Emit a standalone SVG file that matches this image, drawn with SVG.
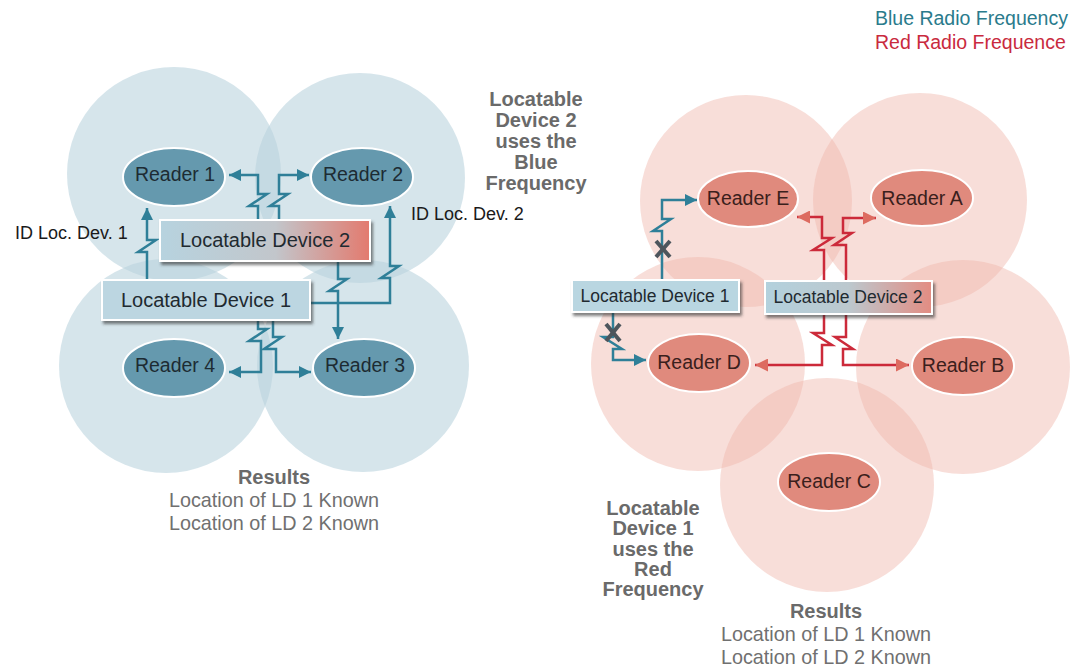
<svg xmlns="http://www.w3.org/2000/svg" width="1083" height="666" viewBox="0 0 1083 666">
<style>
text{font-family:"Liberation Sans",Arial,sans-serif;}
.bc{fill:#b9d3dd;fill-opacity:0.58;}
.rc{fill:#efb5aa;fill-opacity:0.45;}
.br{fill:#6599ae;stroke:#ffffff;stroke-width:2;}
.rr{fill:#e08a7d;stroke:#ffffff;stroke-width:2;}
.rt{font-size:19.5px;fill:#1d2b33;text-anchor:middle;}
.rtr{font-size:19.5px;fill:#3a201c;text-anchor:middle;}
.box{stroke:#ffffff;stroke-width:2;filter:url(#sh);}
.bt{font-size:20px;fill:#1f2a30;text-anchor:middle;}
.bts{font-size:17.5px;fill:#1f2a30;text-anchor:middle;}
.tl{fill:none;stroke:#2f7f98;stroke-width:2.5;stroke-linejoin:miter;marker-end:url(#aT);}
.rl{fill:none;stroke:#cc2a3a;stroke-width:2.5;stroke-linejoin:miter;marker-end:url(#aR);}
.bold{font-size:20px;font-weight:bold;fill:#6a6a6a;text-anchor:middle;}
.res{font-size:19.8px;fill:#707070;text-anchor:middle;}
.lab{font-size:18px;fill:#1a1a1a;}
.x{stroke:#4d555c;stroke-width:4;stroke-linecap:butt;}
</style>
<defs>
<filter id="sh" x="-10%" y="-30%" width="120%" height="170%">
<feDropShadow dx="2" dy="3" stdDeviation="1.5" flood-color="#2a2a2a" flood-opacity="0.6"/>
</filter>
<linearGradient id="g2" x1="0" y1="0" x2="1" y2="0">
<stop offset="0" stop-color="#b7d3df"/>
<stop offset="0.55" stop-color="#c2c6cb"/>
<stop offset="1" stop-color="#e37a6e"/>
</linearGradient>
<linearGradient id="g2r" x1="0" y1="0" x2="1" y2="0">
<stop offset="0" stop-color="#b3d1dd"/>
<stop offset="0.5" stop-color="#bcc8ce"/>
<stop offset="1" stop-color="#e38c82"/>
</linearGradient>
<marker id="aT" viewBox="0 0 10 10" refX="10" refY="5" markerUnits="userSpaceOnUse" markerWidth="12" markerHeight="12" orient="auto">
<path d="M0,0 L10,5 L0,10 z" fill="#2f7f98"/>
</marker>
<marker id="aR" viewBox="0 0 10 10" refX="10" refY="5" markerUnits="userSpaceOnUse" markerWidth="13" markerHeight="13" orient="auto">
<path d="M0,0 L10,5 L0,10 z" fill="#dd6b60"/>
</marker>
</defs>
<rect width="1083" height="666" fill="#ffffff"/>

<g id="coverage-blue">
<circle class="bc" cx="174" cy="174" r="107"/>
<circle class="bc" cx="360" cy="178" r="105"/>
<circle class="bc" cx="166" cy="366" r="107"/>
<circle class="bc" cx="363" cy="366" r="106"/>
</g>
<g id="coverage-red">
<circle class="rc" cx="746" cy="201" r="106"/>
<circle class="rc" cx="920" cy="200" r="107"/>
<circle class="rc" cx="698" cy="364" r="107"/>
<circle class="rc" cx="963" cy="367" r="107"/>
<circle class="rc" cx="827" cy="485" r="107"/>
</g>

<g id="legend">
<text x="875" y="25" style="font-size:19.5px;fill:#2a7b8c">Blue Radio Frequency</text>
<text x="875" y="49" style="font-size:19.5px;fill:#c92a3e">Red Radio Frequence</text>
</g>

<g id="connectors">
<path class="tl" d="M147,280 V252 H138 L156,240 H147 V208"/>
<path class="tl" d="M258,220 V206 H249 L267,194 H258 V175 H229"/>
<path class="tl" d="M279,220 V206 H270 L288,194 H279 V175 H309"/>
<path class="tl" d="M338,262 V279 H347 L329,291 H338 V339"/>
<path class="tl" d="M311,303 H390 V278 H381 L399,266 H390 V206"/>
<path class="tl" d="M258,321 V329 H267 L249,341 H261 V372 H229"/>
<path class="tl" d="M273,321 V337 H282 L264,349 H276 V372 H311"/>
<path class="tl" d="M662,280 V231 H653 L671,219 H662 V200 H697"/>
<path class="tl" d="M613,313 V337 H603 L622,349 H613 V360 H646"/>
<path class="rl" d="M824,280 V250 H813 L832,238 H822 V217 H797"/>
<path class="rl" d="M846,280 V245 H834 L852,233 H843 V218 H876"/>
<path class="rl" d="M824,314 V333 H813 L832,345 H822 V365 H755"/>
<path class="rl" d="M846,314 V337 H835 L853,349 H843 V365 H909"/>
<g id="x1"><line class="x" x1="656" y1="241" x2="670" y2="257"/><line class="x" x1="670" y1="241" x2="656" y2="257"/></g>
<g id="x2"><line class="x" x1="606" y1="324" x2="620" y2="341"/><line class="x" x1="620" y1="324" x2="606" y2="341"/></g>
</g>

<g id="reader1"><ellipse class="br" cx="174" cy="177" rx="51" ry="29"/><text class="rt" x="175" y="181">Reader 1</text></g>
<g id="reader2"><ellipse class="br" cx="362" cy="177" rx="51" ry="29"/><text class="rt" x="363" y="181">Reader 2</text></g>
<g id="reader4"><ellipse class="br" cx="174" cy="368" rx="51" ry="29"/><text class="rt" x="175" y="372">Reader 4</text></g>
<g id="reader3"><ellipse class="br" cx="364" cy="368" rx="51" ry="29"/><text class="rt" x="365" y="372">Reader 3</text></g>

<g id="ld2-left"><rect class="box" x="160" y="220" width="210" height="41" fill="url(#g2)"/><text class="bt" x="265" y="247">Locatable Device 2</text></g>
<g id="ld1-left"><rect class="box" x="102" y="280" width="208" height="40" fill="#bcd6e1"/><text class="bt" x="206" y="307">Locatable Device 1</text></g>

<g id="label-id1"><text class="lab" x="15" y="239">ID Loc. Dev. 1</text></g>
<g id="label-id2"><text class="lab" x="411" y="220">ID Loc. Dev. 2</text></g>

<g id="note-blue">
<text class="bold" x="536" y="106">Locatable</text>
<text class="bold" x="536" y="127">Device 2</text>
<text class="bold" x="536" y="148">uses the</text>
<text class="bold" x="536" y="169">Blue</text>
<text class="bold" x="536" y="190">Frequency</text>
</g>
<g id="results-left">
<text class="bold" x="274" y="484">Results</text>
<text class="res" x="274" y="507">Location of LD 1 Known</text>
<text class="res" x="274" y="530">Location of LD 2 Known</text>
</g>

<g id="readerE"><ellipse class="rr" cx="748" cy="199" rx="50" ry="28"/><text class="rtr" x="748" y="205">Reader E</text></g>
<g id="readerA"><ellipse class="rr" cx="922" cy="198" rx="51" ry="28"/><text class="rtr" x="922" y="205">Reader A</text></g>
<g id="readerD"><ellipse class="rr" cx="699" cy="363" rx="51" ry="29"/><text class="rtr" x="699" y="369">Reader D</text></g>
<g id="readerB"><ellipse class="rr" cx="963" cy="366" rx="51" ry="29"/><text class="rtr" x="963" y="372">Reader B</text></g>
<g id="readerC"><ellipse class="rr" cx="829" cy="482" rx="51" ry="29"/><text class="rtr" x="829" y="488">Reader C</text></g>

<g id="ld1-right"><rect class="box" x="572" y="280" width="167" height="32" fill="#b9d6e1"/><text class="bts" x="655" y="302">Locatable Device 1</text></g>
<g id="ld2-right"><rect class="box" x="765" y="281" width="167" height="33" fill="url(#g2r)"/><text class="bts" x="848" y="303">Locatable Device 2</text></g>

<g id="note-red">
<text class="bold" x="653" y="515">Locatable</text>
<text class="bold" x="653" y="535">Device 1</text>
<text class="bold" x="653" y="556">uses the</text>
<text class="bold" x="653" y="576">Red</text>
<text class="bold" x="653" y="596">Frequency</text>
</g>
<g id="results-right">
<text class="bold" x="826" y="618">Results</text>
<text class="res" x="826" y="641">Location of LD 1 Known</text>
<text class="res" x="826" y="664">Location of LD 2 Known</text>
</g>
</svg>
